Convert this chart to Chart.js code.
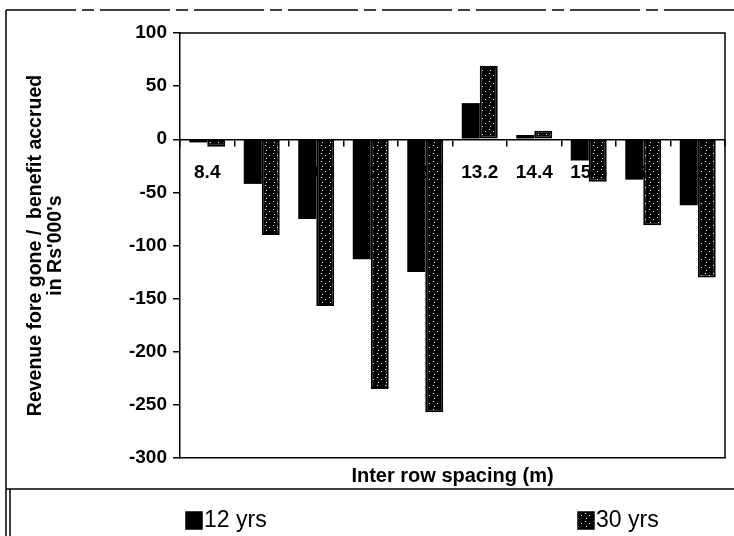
<!DOCTYPE html>
<html>
<head>
<meta charset="utf-8">
<script src="https://cdn.jsdelivr.net/npm/chart.js@4.4.1/dist/chart.umd.min.js"></script>
<style>
  html, body { margin: 0; padding: 0; background: #fff; }
</style>
</head>
<body>
<canvas id="chart" width="734" height="536"></canvas>
<script>
// data
const spacing = ["8.4", "9.6", "10.8", "12", "12.2", "13.2", "14.4", "15.6", "16.8", "18"];
const yrs12 = [-3, -42, -75, -113, -125, 34, 4, -20, -38, -62];
const yrs30 = [-7, -90, -157, -235, -257, 69, 8, -40, -81, -130];
const yMin = -300, yMax = 100, yStep = 50;

const FONT = '"Liberation Sans", Arial, sans-serif';

// mostly black fill with a few white specks, like the scanned hatch
function speckle() {
  const p = document.createElement('canvas');
  p.width = 8; p.height = 8;
  const g = p.getContext('2d');
  g.fillStyle = '#000';
  g.fillRect(0, 0, 8, 8);
  g.fillStyle = '#fff';
  [[1, 1], [5, 3], [2, 6]].forEach(([x, y]) => g.fillRect(x, y, 1, 1));
  return g.createPattern(p, 'repeat');
}
const hatch = speckle();

const frame = {
  id: 'frame',
  beforeDatasetsDraw(chart) {
    const { ctx, chartArea: a } = chart;
    ctx.save();
    ctx.strokeStyle = '#000';
    ctx.lineWidth = 1.5;
    ctx.beginPath();
    ctx.moveTo(a.left, a.top); ctx.lineTo(a.right, a.top); ctx.lineTo(a.right, a.bottom);
    ctx.stroke();
    ctx.restore();
  },
  afterDraw(chart) {
    const ctx = chart.ctx;
    ctx.save();
    ctx.strokeStyle = '#000';
    ctx.lineWidth = 1.5;
    // outer border of the figure
    ctx.setLineDash([70, 6, 12, 6]);
    ctx.beginPath(); ctx.moveTo(6, 10); ctx.lineTo(734, 10); ctx.stroke();
    ctx.setLineDash([]);
    ctx.beginPath(); ctx.moveTo(6, 10); ctx.lineTo(6, 536); ctx.stroke();
    // legend box
    ctx.beginPath(); ctx.moveTo(6, 489); ctx.lineTo(734, 489); ctx.stroke();
    ctx.beginPath(); ctx.moveTo(10, 489); ctx.lineTo(10, 536); ctx.stroke();
    ctx.restore();
  }
};

const legendRow = {
  id: 'legendRow',
  afterDraw(chart) {
    const ctx = chart.ctx;
    const xs = [186, 578];
    ctx.save();
    ctx.font = '23px ' + FONT;
    ctx.textBaseline = 'middle';
    chart.data.datasets.forEach((ds, i) => {
      ctx.fillStyle = ds.backgroundColor;
      ctx.fillRect(xs[i], 512, 16, 17);
      ctx.strokeStyle = '#000';
      ctx.lineWidth = 1.5;
      ctx.strokeRect(xs[i], 512, 16, 17);
      ctx.fillStyle = '#000';
      ctx.fillText(ds.label, xs[i] + 18, 521);
    });
    ctx.restore();
  }
};

new Chart(document.getElementById('chart'), {
  type: 'bar',
  data: {
    labels: spacing,
    datasets: [
      { label: '12 yrs', data: yrs12, backgroundColor: '#000', borderWidth: 0,
        categoryPercentage: 0.66, barPercentage: 1 },
      { label: '30 yrs', data: yrs30, backgroundColor: hatch, borderColor: '#000', borderWidth: 2,
        borderSkipped: false, categoryPercentage: 0.66, barPercentage: 1 }
    ]
  },
  options: {
    responsive: false,
    animation: false,
    layout: { padding: { left: 26, top: 33, right: 9, bottom: 50 } },
    plugins: { legend: { display: false }, tooltip: { enabled: false } },
    scales: {
      x: {
        position: { y: 0 },
        grid: { drawOnChartArea: false, offset: true, color: '#000', tickLength: 6, lineWidth: 1.5 },
        border: { color: '#000', width: 1.5 },
        ticks: { color: '#000', autoSkip: false, maxRotation: 0, padding: 16,
                 font: { family: FONT, size: 19, weight: 'bold' } }
      },
      x2: {
        type: 'category', axis: 'x', labels: spacing, position: 'bottom',
        grid: { display: false },
        border: { display: true, color: '#000', width: 1.5 },
        ticks: { display: false },
        title: { display: true, text: 'Inter row spacing (m)', color: '#000',
                 font: { family: FONT, size: 20, weight: 'bold', lineHeight: 1.0 },
                 padding: { top: 0, bottom: 0 } }
      },
      y: {
        min: yMin, max: yMax,
        afterFit(s) { s.width = 154; },
        ticks: { stepSize: yStep, color: '#000', padding: 6,
                 font: { family: FONT, size: 19, weight: 'bold' } },
        grid: { drawOnChartArea: false, color: '#000', tickLength: 7, lineWidth: 1.5 },
        border: { color: '#000', width: 1.5 },
        title: { display: true, text: ["Revenue fore gone /  benefit accrued", "in Rs'000's"],
                 color: '#000', font: { family: FONT, size: 19.5, weight: 'bold', lineHeight: 1.0 },
                 padding: { top: 0, bottom: 0 } }
      }
    }
  },
  plugins: [frame, legendRow]
});
</script>
</body>
</html>
